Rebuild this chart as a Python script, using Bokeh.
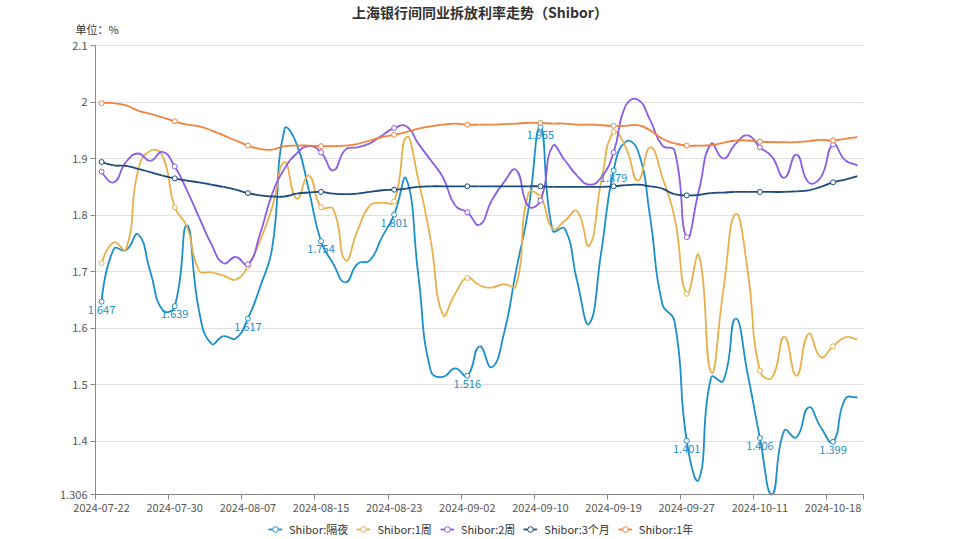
import numpy as np
from bokeh.plotting import figure
from bokeh.models import (Range1d, FixedTicker, Label, Legend, LegendItem, LinearAxis, Grid,
                          ColumnDataSource, CustomJSTickFormatter)
from bokeh.embed import file_html
from bokeh.resources import INLINE
from bokeh.core.properties import value

# ---------------- data ----------------
dates = [
    "2024-07-22", "2024-07-23", "2024-07-24", "2024-07-25", "2024-07-26", "2024-07-29",
    "2024-07-30", "2024-07-31", "2024-08-01", "2024-08-02", "2024-08-05", "2024-08-06",
    "2024-08-07", "2024-08-08", "2024-08-09", "2024-08-12", "2024-08-13", "2024-08-14",
    "2024-08-15", "2024-08-16", "2024-08-19", "2024-08-20", "2024-08-21", "2024-08-22",
    "2024-08-23", "2024-08-26", "2024-08-27", "2024-08-28", "2024-08-29", "2024-08-30",
    "2024-09-02", "2024-09-03", "2024-09-04", "2024-09-05", "2024-09-06", "2024-09-09",
    "2024-09-10", "2024-09-11", "2024-09-12", "2024-09-13", "2024-09-14", "2024-09-18",
    "2024-09-19", "2024-09-20", "2024-09-23", "2024-09-24", "2024-09-25", "2024-09-26",
    "2024-09-27", "2024-09-29", "2024-09-30", "2024-10-08", "2024-10-09", "2024-10-10",
    "2024-10-11", "2024-10-12", "2024-10-14", "2024-10-15", "2024-10-16", "2024-10-17",
    "2024-10-18", "2024-10-21", "2024-10-22",
]

overnight = [
    1.647, 1.740, 1.738, 1.766, 1.700, 1.632, 1.639, 1.782, 1.630, 1.573, 1.586, 1.582,
    1.617, 1.673, 1.743, 1.952, 1.926, 1.844, 1.754, 1.714, 1.681, 1.714, 1.720, 1.761,
    1.801, 1.864, 1.690, 1.525, 1.514, 1.529, 1.516, 1.568, 1.531, 1.590, 1.702, 1.808,
    1.955, 1.773, 1.776, 1.684, 1.608, 1.737, 1.879, 1.930, 1.914, 1.796, 1.643, 1.612,
    1.401, 1.333, 1.513, 1.507, 1.617, 1.519, 1.406, 1.306, 1.419, 1.407, 1.460, 1.425,
    1.399, 1.475, 1.478,
]
week1 = [
    1.715, 1.752, 1.739, 1.880, 1.914, 1.905, 1.814, 1.780, 1.702, 1.699, 1.693, 1.686,
    1.709, 1.755, 1.814, 1.894, 1.829, 1.870, 1.814, 1.811, 1.720, 1.773, 1.817, 1.822,
    1.824, 1.938, 1.861, 1.755, 1.624, 1.661, 1.689, 1.676, 1.672, 1.678, 1.675, 1.838,
    1.832, 1.776, 1.790, 1.807, 1.746, 1.861, 1.947, 1.920, 1.861, 1.920, 1.867, 1.796,
    1.661, 1.729, 1.522, 1.667, 1.802, 1.702, 1.525, 1.513, 1.585, 1.516, 1.590, 1.549,
    1.568, 1.584, 1.580,
]
week2 = [
    1.877, 1.858, 1.894, 1.909, 1.896, 1.912, 1.886, 1.844, 1.796, 1.749, 1.715, 1.726,
    1.713, 1.767, 1.838, 1.882, 1.909, 1.922, 1.911, 1.879, 1.916, 1.920, 1.927, 1.941,
    1.954, 1.957, 1.926, 1.897, 1.867, 1.817, 1.805, 1.783, 1.826, 1.858, 1.880, 1.816,
    1.826, 1.922, 1.897, 1.870, 1.854, 1.867, 1.911, 1.994, 2.004, 1.968, 1.923, 1.914,
    1.761, 1.844, 1.926, 1.900, 1.926, 1.941, 1.920, 1.903, 1.866, 1.907, 1.858, 1.867,
    1.925, 1.897, 1.888,
]
month3 = [
    1.894, 1.888, 1.887, 1.882, 1.876, 1.870, 1.865, 1.861, 1.858, 1.854, 1.850, 1.845,
    1.839, 1.835, 1.833, 1.833, 1.838, 1.840, 1.841, 1.838, 1.837, 1.838, 1.841, 1.844,
    1.845, 1.847, 1.850, 1.851, 1.851, 1.851, 1.851, 1.851, 1.851, 1.851, 1.851, 1.851,
    1.851, 1.850, 1.850, 1.850, 1.850, 1.850, 1.851, 1.853, 1.854, 1.851, 1.847, 1.837,
    1.835, 1.836, 1.839, 1.840, 1.841, 1.841, 1.841, 1.841, 1.841, 1.842, 1.844, 1.850,
    1.858, 1.863, 1.869,
]
year1 = [
    1.998, 1.998, 1.994, 1.985, 1.979, 1.973, 1.966, 1.960, 1.957, 1.950, 1.941, 1.932,
    1.923, 1.917, 1.916, 1.922, 1.923, 1.923, 1.922, 1.922, 1.923, 1.926, 1.932, 1.938,
    1.942, 1.947, 1.953, 1.957, 1.960, 1.962, 1.960, 1.960, 1.960, 1.961, 1.962, 1.963,
    1.963, 1.962, 1.962, 1.960, 1.960, 1.959, 1.958, 1.958, 1.959, 1.950, 1.935, 1.927,
    1.923, 1.923, 1.924, 1.928, 1.932, 1.932, 1.930, 1.929, 1.929, 1.929, 1.931, 1.933,
    1.932, 1.935, 1.938,
]

series_names = ["Shibor:隔夜", "Shibor:1周", "Shibor:2周", "Shibor:3个月", "Shibor:1年"]
series_values = [overnight, week1, week2, month3, year1]
series_colors = ["#1a8fc9", "#e8b04a", "#8a5ce6", "#1c4a7a", "#f2813a"]

y_ticks = [1.306, 1.4, 1.5, 1.6, 1.7, 1.8, 1.9, 2.0, 2.1]
label_every = 6

title_text = "上海银行间同业拆放利率走势（Shibor）"
unit_text = "单位：%"

# ---------------- layout ----------------
W, H = 959, 539
GL, GR, GT, GB = 95, 96, 45, 45          # grid margins inside the canvas
FONT = "Noto Sans CJK SC"
n = len(dates)

grid_w = W - GL - GR
grid_h = H - GT - GB
sx = grid_w / n                                  # px per category
sy = grid_h / (y_ticks[-1] - y_ticks[0])         # px per unit

x_lo, x_hi = -0.5, n - 0.5
y_lo, y_hi = y_ticks[0], y_ticks[-1]

p = figure(width=W, height=H, output_backend="svg", toolbar_location=None,
           x_range=Range1d(x_lo - GL / sx, x_hi + GR / sx),
           y_range=Range1d(y_lo - GB / sy, y_hi + GT / sy),
           x_axis_location=None, y_axis_location=None,
           min_border=0, min_border_left=0, min_border_right=0,
           min_border_top=0, min_border_bottom=0)
p.outline_line_color = None
p.background_fill_color = "white"
p.border_fill_color = "white"
p.xgrid.visible = False
p.ygrid.visible = False

# grid lines
hgrid = Grid(dimension=1, ticker=FixedTicker(ticks=y_ticks), grid_line_color="#e0e0e0",
             grid_line_width=1)
try:
    hgrid.cross_bounds = (x_lo, x_hi)
    p.add_layout(hgrid, "center")
except Exception:
    p.segment(x0=[x_lo] * len(y_ticks), x1=[x_hi] * len(y_ticks), y0=y_ticks, y1=y_ticks,
              line_color="#e0e0e0", line_width=1)


def smooth_segments(vals, smooth=0.5):
    """ECharts-like cubic bezier control points, computed in pixel space."""
    px = np.arange(len(vals)) * sx
    py = np.asarray(vals) * sy
    m = len(vals)
    nxt_cp = np.zeros((m, 2))
    prv_cp = np.zeros((m, 2))
    for i in range(m):
        a = max(i - 1, 0)
        b = min(i + 1, m - 1)
        vx = px[b] - px[a]
        vy = py[b] - py[a]
        d0 = np.hypot(px[i] - px[a], py[i] - py[a])
        d1 = np.hypot(px[b] - px[i], py[b] - py[i])
        r = d1 / (d0 + d1) if (d0 + d1) > 0 else 0.5
        nxt_cp[i] = (px[i] + vx * smooth * r, py[i] + vy * smooth * r)
        prv_cp[i] = (px[i] - vx * smooth * (1 - r), py[i] - vy * smooth * (1 - r))
    nxt_cp[0] = (px[0], py[0])
    x = np.arange(m, dtype=float)
    v = np.asarray(vals, dtype=float)
    return dict(
        x0=x[:-1], y0=v[:-1], x1=x[1:], y1=v[1:],
        cx0=nxt_cp[:-1, 0] / sx, cy0=nxt_cp[:-1, 1] / sy,
        cx1=prv_cp[1:, 0] / sx, cy1=prv_cp[1:, 1] / sy,
    )


# axes drawn at fixed places inside the full-canvas frame
xaxis = LinearAxis(fixed_location=y_lo, bounds=(x_lo, x_hi))
p.add_layout(xaxis, "below")
yaxis = LinearAxis(fixed_location=x_lo, bounds=(y_lo, y_hi))
p.add_layout(yaxis, "left")

mark_idx = list(range(0, n, label_every))
xaxis.ticker = FixedTicker(ticks=mark_idx, minor_ticks=[i - 0.5 for i in mark_idx] + [x_hi])
xaxis.major_label_overrides = {i: dates[i] for i in mark_idx}
xaxis.major_tick_line_color = None
xaxis.major_tick_out = 0
xaxis.major_tick_in = 0
xaxis.minor_tick_line_color = "#8a8a8a"
xaxis.minor_tick_out = 5
xaxis.minor_tick_in = 0
xaxis.axis_line_color = "#8a8a8a"
xaxis.major_label_standoff = 4
xaxis.major_label_text_font = FONT
xaxis.major_label_text_font_size = "11px"
xaxis.major_label_text_color = "#555555"

yaxis.ticker = FixedTicker(ticks=y_ticks)
yaxis.formatter = CustomJSTickFormatter(code="return String(Number(tick.toFixed(3)));")
yaxis.major_tick_line_color = "#8a8a8a"
yaxis.major_tick_out = 5
yaxis.major_tick_in = 0
yaxis.minor_tick_line_color = None
yaxis.axis_line_color = "#8a8a8a"
yaxis.major_label_standoff = 3
yaxis.major_label_text_font = FONT
yaxis.major_label_text_font_size = "11px"
yaxis.major_label_text_color = "#555555"

items = []
for name, vals, col in zip(series_names, series_values, series_colors):
    src = ColumnDataSource(smooth_segments(vals))
    br = p.bezier(x0="x0", y0="y0", x1="x1", y1="y1", cx0="cx0", cy0="cy0",
                  cx1="cx1", cy1="cy1", source=src, line_color=col, line_width=1.8)
    msrc = ColumnDataSource(dict(x=mark_idx, y=[vals[i] for i in mark_idx]))
    sr = p.scatter(x="x", y="y", source=msrc, marker="circle", size=5,
                   fill_color="white", line_color=col, line_width=1)
    items.append(LegendItem(label=name, renderers=[br, sr]))

# value labels on the overnight series
lsrc = ColumnDataSource(dict(x=mark_idx, y=[overnight[i] for i in mark_idx],
                             t=[f"{overnight[i]:.3f}" for i in mark_idx]))
p.text(x="x", y="y", text="t", source=lsrc, text_font=value(FONT), text_font_size="11px",
       text_color=series_colors[0], text_align="center", text_baseline="top", y_offset=4)

# title and unit
p.add_layout(Label(x=W / 2, y=H - 11, x_units="screen", y_units="screen",
                   text=title_text, text_font=FONT, text_font_size="14px",
                   text_font_style="bold", text_color="#333333",
                   text_align="center", text_baseline="middle"))
p.add_layout(Label(x=75, y=H - 28, x_units="screen", y_units="screen",
                   text=unit_text, text_font=FONT, text_font_size="11px",
                   text_color="#333333", text_align="left", text_baseline="middle"))

legend = Legend(items=items, orientation="horizontal", location=(268, 0),
                border_line_color=None, background_fill_alpha=0,
                label_text_font=FONT, label_text_font_size="11px", label_text_color="#333333",
                glyph_width=14, glyph_height=20, label_height=20, label_standoff=7,
                spacing=8, padding=0, margin=0)
p.add_layout(legend)

open("out.html", "w").write(file_html(p, INLINE))
